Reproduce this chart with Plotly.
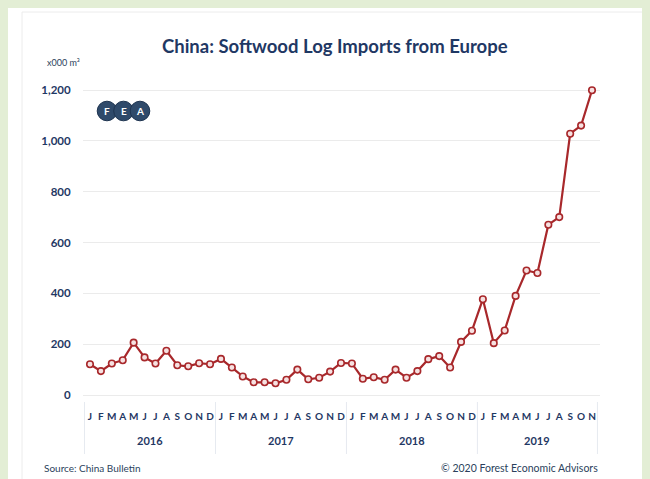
import plotly.graph_objects as go

# ---------------- data ----------------
years = ["2016", "2017", "2018", "2019"]
month_letters = ["J", "F", "M", "A", "M", "J", "J", "A", "S", "O", "N", "D"]
months_per_year = [12, 12, 12, 11]
imports_2016 = [121, 94, 124, 137, 206, 148, 124, 174, 117, 113, 125, 121]
imports_2017 = [142, 108, 73, 50, 50, 46, 60, 100, 62, 68, 92, 126]
imports_2018 = [124, 64, 70, 60, 100, 68, 94, 141, 153, 108, 209, 253]
imports_2019 = [377, 204, 254, 390, 490, 480, 670, 700, 1028, 1060, 1199]
y_ticks = [0, 200, 400, 600, 800, 1000, 1200]

values = imports_2016 + imports_2017 + imports_2018 + imports_2019
tick_text = []
for n in months_per_year:
    tick_text += month_letters[:n]
x_idx = list(range(len(values)))

# ---------------- layout geometry (screen pixels) ----------------
SW, SH = 650, 479      # browser window
OFF = 8                # default page body margin
W, H = SW - OFF, SH - OFF
L, R, T, B = 83, 600, 82, 400
pw, ph = R - L, B - T


def px(x):
    return (x - L) / pw


def py(y):
    return (B - y) / ph


NAVY = "#1f3864"
TEXT = "#2b3f5c"
RED = "#a8282b"
GREEN = "#e3eed5"
FONT = "Lato"

fig = go.Figure()
fig.add_trace(go.Scatter(
    x=x_idx, y=values, mode="lines+markers",
    line=dict(color=RED, width=2.2),
    marker=dict(symbol="circle", size=6.5, color="#f6e1e1",
                line=dict(color=RED, width=1.6)),
    hoverinfo="skip", showlegend=False,
))

shapes = []
# faint inner frame
shapes.append(dict(type="rect", xref="paper", yref="paper", layer="below",
                   x0=px(22), x1=px(645), y0=py(12), y1=py(490),
                   fillcolor="rgba(0,0,0,0)", line=dict(color="#ececec", width=1)))
# year dividers below axis
start = 0
bounds = [-0.5]
for n in months_per_year:
    start += n
    bounds.append(start - 0.5)
for b in bounds:
    shapes.append(dict(type="line", xref="x", yref="paper",
                       x0=b, x1=b, y0=py(402), y1=py(454),
                       line=dict(color="#e6eaf0", width=1)))

# FEA logo circles
logo_letters = ["F", "E", "A"]
logo_x = [107, 123.5, 140]
logo_y = 111
for cx in logo_x:
    shapes.append(dict(type="circle", xref="paper", yref="paper",
                       x0=px(cx - 9.8), x1=px(cx + 9.8),
                       y0=py(logo_y + 9.8), y1=py(logo_y - 9.8),
                       fillcolor="#2f4a6a", line=dict(color="#1e3450", width=1)))

annotations = []
annotations.append(dict(text="China: Softwood Log Imports from Europe",
                        xref="paper", yref="paper", x=px(335), y=py(46),
                        xanchor="center", yanchor="middle", showarrow=False,
                        font=dict(family=FONT, size=18.5, color=NAVY, weight="bold")))
annotations.append(dict(text="x000 m³", xref="paper", yref="paper",
                        x=px(45), y=py(63), xanchor="left", yanchor="middle",
                        showarrow=False, font=dict(family=FONT, size=9, color=TEXT)))
for lt, cx in zip(logo_letters, logo_x):
    annotations.append(dict(text=lt, xref="paper", yref="paper", x=px(cx), y=py(logo_y),
                            xanchor="center", yanchor="middle", showarrow=False,
                            font=dict(family=FONT, size=10, color="white", weight="bold")))
# year labels
s = 0
for yr, n in zip(years, months_per_year):
    annotations.append(dict(text=yr, xref="x", yref="paper", x=s + (n - 1) / 2,
                            y=py(440), xanchor="center", yanchor="middle",
                            showarrow=False,
                            font=dict(family=FONT, size=11, color=NAVY, weight="bold")))
    s += n
annotations.append(dict(text="Source: China Bulletin", xref="paper", yref="paper",
                        x=px(42), y=py(468), xanchor="left", yanchor="middle",
                        showarrow=False, font=dict(family=FONT, size=10, color=TEXT)))
annotations.append(dict(text="© 2020 Forest Economic Advisors", xref="paper", yref="paper",
                        x=px(600), y=py(468), xanchor="right", yanchor="middle",
                        showarrow=False, font=dict(family=FONT, size=10.5, color=TEXT)))

x0r = (L - 90) / 10.913
x1r = (R - 90) / 10.913
ypp = 1200 / (395 - 90)
y0r = -(B - 395) * ypp
y1r = 1200 + (90 - T) * ypp

fig.update_layout(
    width=W, height=H,
    margin=dict(l=L - OFF, r=SW - R, t=T - OFF, b=SH - B, pad=0),
    paper_bgcolor="white", plot_bgcolor="rgba(0,0,0,0)",
    font=dict(family=FONT, color=NAVY),
    shapes=shapes, annotations=annotations,
    showlegend=False,
    xaxis=dict(range=[x0r, x1r], tickmode="array", tickvals=x_idx, ticktext=tick_text,
               showgrid=False, zeroline=False, showline=False,
               ticks="outside", ticklen=7, tickcolor="rgba(0,0,0,0)",
               tickfont=dict(family=FONT, size=10, color=NAVY, weight="bold"),
               tickangle=0, fixedrange=True),
    yaxis=dict(range=[y0r, y1r], tickmode="array", tickvals=y_ticks, tickformat=",",
               showgrid=True, gridcolor="#ebebeb", gridwidth=1, zeroline=False,
               showline=False, ticks="outside", ticklen=9, tickcolor="rgba(0,0,0,0)",
               tickfont=dict(family=FONT, size=11.5, color=NAVY, weight="bold"),
               fixedrange=True),
)

fig.write_html(
    "out.html",
    post_script="document.body.style.backgroundColor='" + GREEN + "';",
)
